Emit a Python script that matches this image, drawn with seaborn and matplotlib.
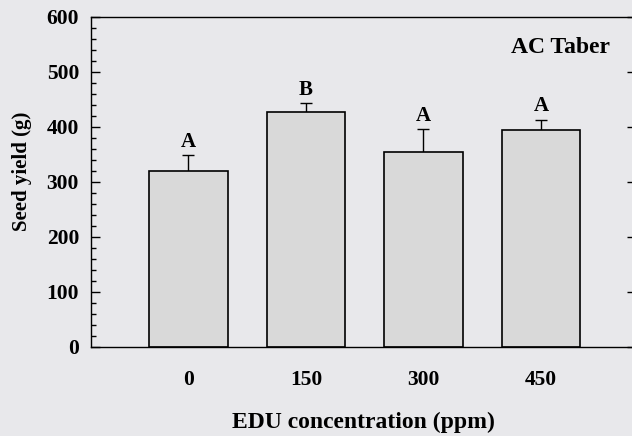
import matplotlib
matplotlib.use("Agg")
import matplotlib.pyplot as plt
import seaborn as sns
import pandas as pd
from matplotlib.ticker import MultipleLocator

# Data
concentrations = ["0", "150", "300", "450"]
seed_yield = [319, 427, 354, 394]
yield_err = [29, 16, 41, 19]
letters = ["A", "B", "A", "A"]

sns.set_theme(style="ticks")
plt.rcParams["font.family"] = ["Liberation Serif", "DejaVu Serif"]
plt.rcParams["font.weight"] = "bold"
plt.rcParams["text.color"] = "black"
plt.rcParams["axes.labelcolor"] = "black"
plt.rcParams["xtick.color"] = "black"
plt.rcParams["ytick.color"] = "black"

bg = "#e8e8eb"
fig = plt.figure(figsize=(6.32, 4.36), dpi=100, facecolor=bg)
ax = fig.add_axes([90.7 / 632, 89.3 / 436, (636 - 90.7) / 632, 330 / 436])
ax.set_facecolor(bg)

df = pd.DataFrame({"conc": concentrations, "yield": seed_yield})
sns.barplot(data=df, x="conc", y="yield", order=concentrations, color="#d9d9d9",
            edgecolor="black", linewidth=1.2, width=0.67, saturation=1, ax=ax,
            errorbar=None, zorder=2)

xs = list(range(len(concentrations)))
ax.errorbar(xs, seed_yield, yerr=yield_err, fmt="none",
            ecolor="black", elinewidth=1.0, capsize=4.3, capthick=1.0, zorder=1)

for x, m, e, lab in zip(xs, seed_yield, yield_err, letters):
    ax.annotate(lab, (x, m + e), xytext=(0, 2.5), textcoords="offset points",
                ha="center", va="bottom", fontsize=15, fontweight="bold", color="black")

ax.set_xlim(-0.8315, 3.809)
ax.set_ylim(0, 600)
ax.yaxis.set_major_locator(MultipleLocator(100))
ax.yaxis.set_minor_locator(MultipleLocator(20))
ax.tick_params(axis="y", which="major", direction="in", length=6.5, width=1,
               labelsize=15.5, pad=8.4, right=True, left=True)
ax.tick_params(axis="y", which="minor", direction="in", length=3.6, width=1,
               left=True, right=False)
ax.tick_params(axis="x", length=0, labelsize=15.5, pad=16.5)
for lab in ax.get_xticklabels() + ax.get_yticklabels():
    lab.set_fontweight("bold")
    lab.set_color("black")

for sp in ax.spines.values():
    sp.set_visible(True)
    sp.set_linewidth(1.0)
    sp.set_color("black")
    sp.set_zorder(3)

ax.set_xlabel("EDU concentration (ppm)", fontsize=17, fontweight="bold", va="baseline")
ax.xaxis.set_label_coords(0.5, (346.7 - 428) / 330)
ax.set_ylabel("Seed yield (g)", fontsize=15, fontweight="bold", va="center")
ax.yaxis.set_label_coords((22 - 90.7) / 545.3, 0.532)

ax.text((610 - 90.7) / 545.3, (346.7 - 53.3) / 330, "AC Taber", transform=ax.transAxes,
        ha="right", va="baseline", fontsize=17, fontweight="bold")

fig.savefig("out.png", dpi=100, facecolor=bg)
